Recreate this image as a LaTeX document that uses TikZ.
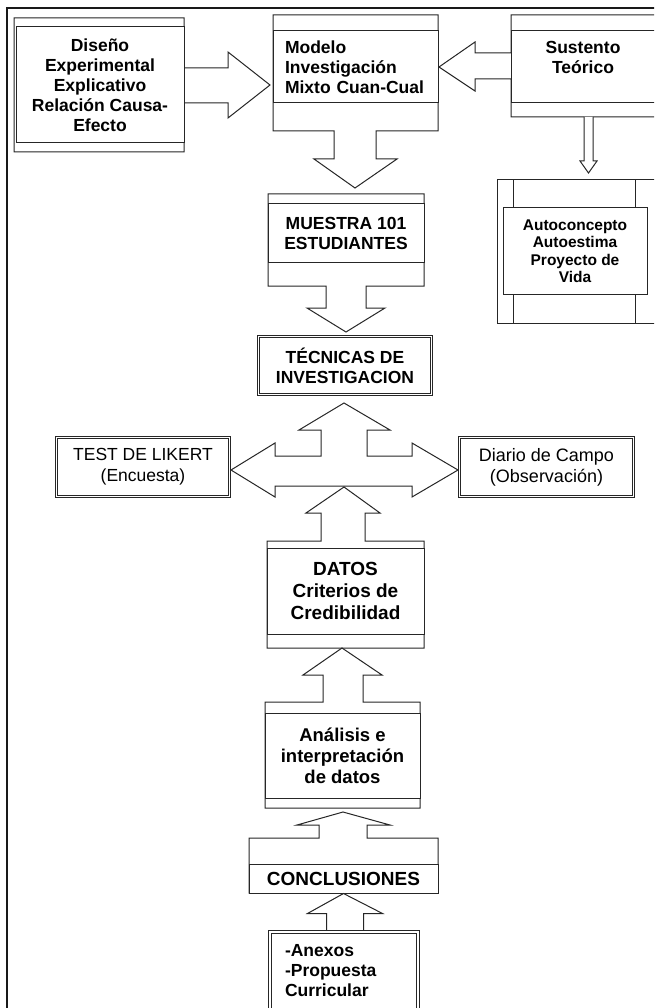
\documentclass[tikz,border=0pt]{standalone}
\usepackage{fontspec}
\setmainfont{Liberation Sans}
\usetikzlibrary{positioning}

\begin{document}
\begin{tikzpicture}[x=1pt,y=-1pt,line width=1pt,
	box/.style={rectangle,draw=black!85,fill=white,inner sep=0pt,align=center,font=\bfseries\fontsize{17.5}{20}\selectfont},
	dbox/.style={box,double,double distance=1.6pt,line width=0.8pt},
	outl/.style={draw=black!85,fill=white}]
		\useasboundingbox (0,0) rectangle (654,1008);
		\clip (0,0) rectangle (654,1008);

		%frame
		\draw[line width=1.5pt,black!90] (7,1030) -- (7,8) -- (680,8);

		%top row
		\draw[outl] (14,18) -- (184,18) -- (184,68) -- (228,68) -- (228,52) -- (270,85) -- (228,118) -- (228,103) -- (184,103) -- (184,152) -- (14,152) -- cycle;
		\node[box,minimum width=168pt,minimum height=116pt] (dis) at (100,85) {Diseño\\Experimental\\Explicativo\\Relación Causa-\\Efecto};

		\draw[outl] (273,15) -- (438,15) -- (438,131) -- (376,131) -- (376,159) -- (397,159) -- (355,188) -- (314,159) -- (334,159) -- (334,131) -- (273,131) -- cycle;
		\node[box,align=left,text width=141pt,inner xsep=12pt,minimum height=72pt] (mod) at (355.5,67) {Modelo\\Investigación\\Mixto Cuan-Cual};

		\draw[outl] (511,15) -- (660,15) -- (660,117) -- (511,117) -- (511,79) -- (475,79) -- (475,91) -- (439,67) -- (475,42) -- (475,53) -- (511,53) -- cycle;
		\node[box,minimum width=144pt,minimum height=72pt] (sus) at (583,67) {Sustento\\Teórico\\\mbox{}};

		%right column
		\draw[outl] (584,117) -- (584,161) -- (580,161) -- (588.5,173) -- (597,161) -- (593,161) -- (593,117);
		\draw[outl] (497,180) rectangle (665,323);
		\draw[outl] (513,180) -- (513,323) (635,180) -- (635,323);
		\node[box,minimum width=144pt,minimum height=86pt,font=\bfseries\fontsize{15.5}{17.5}\selectfont] (auto) at (575,251) {Autoconcepto\\Autoestima\\Proyecto de\\Vida};

		%center column
		\draw[outl] (268,194) -- (424,194) -- (424,286) -- (366,286) -- (366,308) -- (385,308) -- (346,332) -- (307,308) -- (326,308) -- (326,286) -- (268,286) -- cycle;
		\node[box,minimum width=156pt,minimum height=58pt] (mue) at (346,233) {MUESTRA 101\\ESTUDIANTES};

		\node[dbox,minimum width=173pt,minimum height=58pt] (tec) at (345,365.5) {TÉCNICAS DE\\INVESTIGACION};

		%three way arrow
		\draw[outl] (344,403) -- (390,430) -- (367,430) -- (367,456) -- (412,456) -- (412,443) -- (458,470) -- (412,497) -- (412,486) -- (275,486) -- (275,497) -- (231,470) -- (275,443) -- (275,456) -- (321,456) -- (321,430) -- (299,430) -- cycle;

		\node[dbox,minimum width=173pt,minimum height=59pt,font=\fontsize{17.5}{21}\selectfont] (test) at (143,467) {TEST DE LIKERT\\(Encuesta)};
		\node[dbox,minimum width=174pt,minimum height=59pt,font=\fontsize{18}{21}\selectfont] (diar) at (546.5,467) {Diario de Campo\\(Observación)};

		%lower column
		\draw[outl] (267,541) -- (321,541) -- (321,513) -- (306,513) -- (344,487) -- (380,513) -- (365,513) -- (365,541) -- (424,541) -- (424,648) -- (267,648) -- cycle;
		\node[box,minimum width=157pt,minimum height=86pt,font=\bfseries\fontsize{19}{22}\selectfont] (dat) at (345.5,591) {DATOS\\Criterios de\\Credibilidad};

		\draw[outl] (265,702) -- (323,702) -- (323,675) -- (303,675) -- (342,648) -- (382,675) -- (363,675) -- (363,702) -- (420,702) -- (420,808) -- (265,808) -- cycle;
		\node[box,minimum width=155pt,minimum height=85pt,font=\bfseries\fontsize{18.5}{21}\selectfont] (ana) at (342.5,755.5) {Análisis e\\interpretación\\de datos};

		\draw[outl] (249,838) -- (319,838) -- (319,825) -- (297,825) -- (343,812) -- (390,825) -- (367,825) -- (367,838) -- (438,838) -- (438,893) -- (249,893) -- cycle;
		\node[box,minimum width=189pt,minimum height=29pt,font=\bfseries\fontsize{19}{22}\selectfont] (conc) at (343.5,878.5) {CONCLUSIONES};

		\draw[outl] (conc.south) -- ++(39,20) -- ++(-19,0) -- ++(0,19) -- ++(-37,0) -- ++(0,-19) -- ++(-19,0) -- cycle;
		\node[dbox,align=left,text width=118pt,inner xsep=15pt,minimum height=78pt] (anex) at (344,971) {-Anexos\\-Propuesta\\Curricular};
	\end{tikzpicture}
\end{document}
